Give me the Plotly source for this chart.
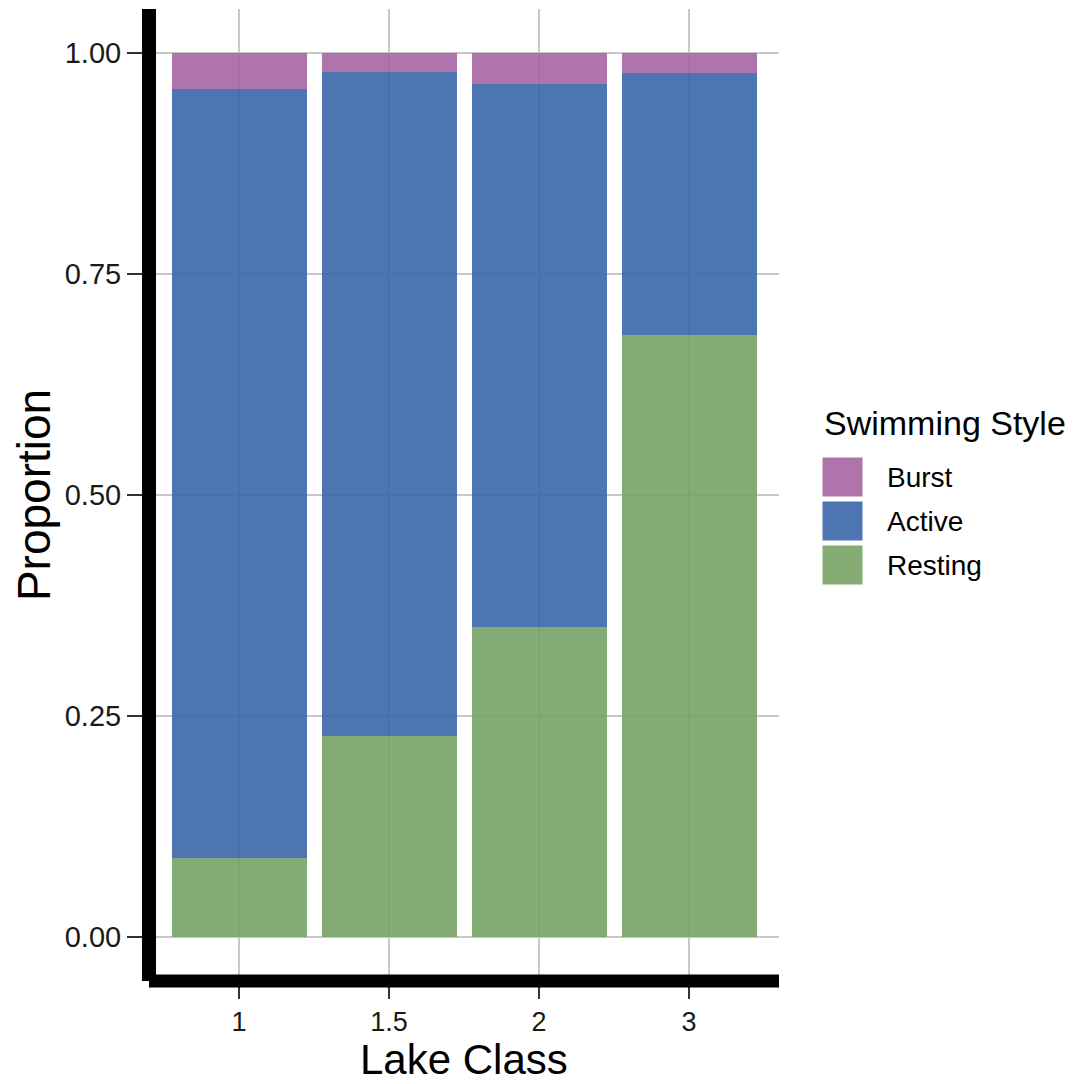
import plotly.graph_objects as go

lake_class = ["1", "1.5", "2", "3"]
resting = [0.089, 0.227, 0.351, 0.681]
active = [0.871, 0.752, 0.614, 0.297]
burst = [0.040, 0.021, 0.035, 0.022]

series = [
    ("Resting", resting, "rgba(118,163,101,0.9)"),
    ("Active", active, "rgba(56,102,169,0.9)"),
    ("Burst", burst, "rgba(167,101,164,0.9)"),
]
legend_colors = {"Burst": "#b074ad", "Active": "#4c75b2", "Resting": "#84ac74"}

FONT = "Liberation Sans, Arial, Helvetica, sans-serif"

# plot area in page pixels (page has 8px body margin)
PL, PR, PT, PB = 149, 779, 9, 981
def px(xp):
    return (xp - PL) / (PR - PL)
def py(yp):
    return (PB - yp) / (PB - PT)

fig = go.Figure()
for name, vals, col in series:
    fig.add_trace(go.Bar(x=lake_class, y=vals, name=name, marker=dict(color=col, line=dict(width=0)),
                         showlegend=False))

shapes = [
    dict(type="line", xref="paper", yref="paper", x0=0, x1=0, y0=0.0, y1=1.0,
         line=dict(color="black", width=14), layer="above"),
    dict(type="line", xref="paper", yref="paper", x0=0.0, x1=1.0, y0=0, y1=0,
         line=dict(color="black", width=13), layer="above"),
]
annotations = [
    dict(text="Swimming Style", xref="paper", yref="paper", x=px(822), y=py(423),
         xanchor="left", yanchor="middle", showarrow=False, font=dict(size=34, color="black")),
    dict(text="Lake Class", xref="paper", yref="paper", x=0.5, y=py(1059),
         xanchor="center", yanchor="middle", showarrow=False, borderpad=0,
         font=dict(size=42, color="black")),
]
# manual legend (Burst, Active, Resting)
for i, (name, vals, col) in enumerate(series[::-1]):
    top = 457 + 44 * i
    shapes.append(dict(type="rect", xref="paper", yref="paper",
                       x0=px(822), x1=px(863), y0=py(top + 40), y1=py(top),
                       fillcolor=legend_colors[name], line=dict(color="white", width=1)))
    annotations.append(dict(text=name, xref="paper", yref="paper", x=px(885), y=py(top + 20),
                            xanchor="left", yanchor="middle", showarrow=False,
                            font=dict(size=28, color="black")))

fig.update_layout(
    barmode="stack",
    bargap=0.1,
    width=1084, height=1084,
    margin=dict(l=PL - 8, r=1084 - (PR - 8), t=PT - 8, b=1084 - (PB - 8)),
    plot_bgcolor="white", paper_bgcolor="white",
    font=dict(family=FONT, color="#1a1a1a"),
    showlegend=False,
    xaxis=dict(
        type="category", range=[-0.6, 3.6],
        showgrid=True, gridcolor="#c8c8c8", gridwidth=2,
        ticks="outside", ticklen=17, tickwidth=2, tickcolor="#333333",
        tickfont=dict(size=27, color="#1a1a1a"),
        zeroline=False, showline=False,
    ),
    yaxis=dict(
        range=[-0.05, 1.05],
        tickvals=[0, 0.25, 0.5, 0.75, 1.0], ticktext=["0.00", "0.25", "0.50", "0.75", "1.00"],
        showgrid=True, gridcolor="#c8c8c8", gridwidth=2,
        ticks="outside", ticklen=21, tickwidth=2, tickcolor="#333333",
        tickfont=dict(size=29, color="#1a1a1a"),
        title=dict(text="Proportion", font=dict(size=46, color="black"), standoff=8),
        zeroline=False, showline=False,
    ),
    shapes=shapes,
    annotations=annotations,
)

fig.write_html("out.html")
